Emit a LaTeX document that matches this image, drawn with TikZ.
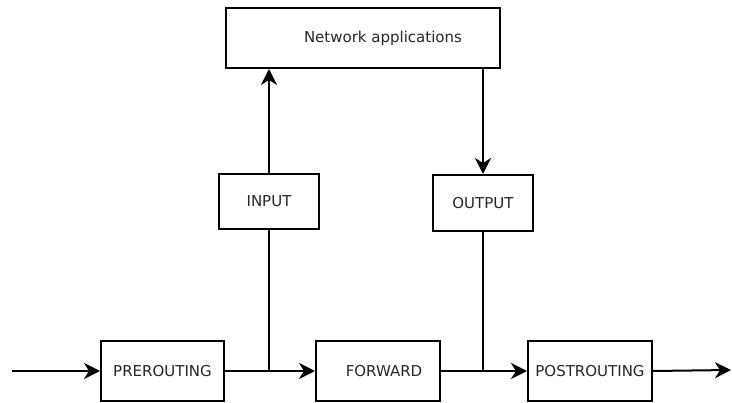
\documentclass[tikz,border=0pt]{standalone}
\usepackage{fontspec}
\setmainfont{DejaVu Sans}
\usetikzlibrary{arrows.meta}
\begin{document}
\begin{tikzpicture}[x=1pt,y=-1pt,
  box/.style={draw=black,line width=2pt,rectangle,inner sep=0pt,font=\fontsize{15}{18}\selectfont,text=black!85},
  conn/.style={draw=black,line width=2pt},
  arr/.style={conn,-{Stealth[length=16pt,width=16pt,inset=5pt]}}]
\useasboundingbox (0,0) rectangle (732,403);
\node[box,minimum width=274pt,minimum height=60pt] (net) at (363,38) {\hspace*{40pt}Network applications};
\node[box,minimum width=100pt,minimum height=55pt] (input) at (269,201.5) {INPUT};
\node[box,minimum width=100pt,minimum height=56pt] (output) at (483,203) {OUTPUT};
\node[box,minimum width=123pt,minimum height=60pt] (pre) at (162.5,371) {PREROUTING};
\node[box,minimum width=124pt,minimum height=60pt] (fwd) at (378,371) {\hspace*{12pt}FORWARD};
\node[box,minimum width=124pt,minimum height=60pt] (post) at (590,371) {POSTROUTING};
\coordinate (start) at (12,371);
\coordinate (end) at (731,370);
\draw[arr] (start) -- (pre.west);
\draw[arr] (pre.east) -- (fwd.west);
\draw[arr] (fwd.east) -- (post.west);
\draw[arr] (post.east) -- (end);
\draw[conn] (input.south) -- (input.south |- pre.east);
\draw[arr] (input.north) -- (input.north |- net.south);
\draw[arr] (net.south -| output.north) -- (output.north);
\draw[conn] (output.south) -- (output.south |- fwd.east);
\end{tikzpicture}
\end{document}
